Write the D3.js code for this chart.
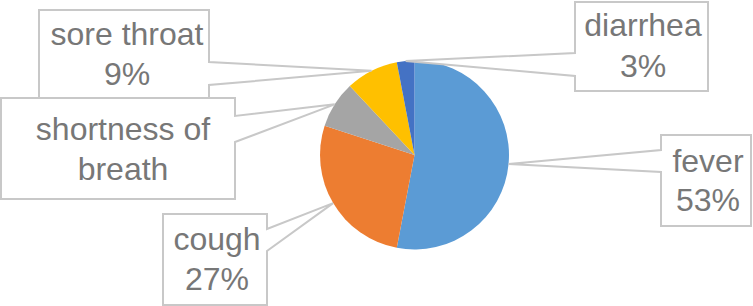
<!DOCTYPE html>
<html>
<head>
<meta charset="utf-8">
<script src="https://cdn.jsdelivr.net/npm/d3@7"></script>
<style>
  html, body { margin: 0; padding: 0; background: #fff; }
  svg { display: block; }
</style>
</head>
<body>
<svg id="chart" width="753" height="306"></svg>
<script>
// ---- data ----
const categories = ["fever", "cough", "shortness of breath", "sore throat", "diarrhea"];
const values = [53, 27, 8, 9, 3];
// visible label lines (the "shortness of breath" label is clipped in the original)
const labelLines = [
  ["fever", "53%"],
  ["cough", "27%"],
  ["shortness of", "breath"],
  ["sore throat", "9%"],
  ["diarrhea", "3%"]
];
const colors = ["#5B9BD5", "#ED7D31", "#A5A5A5", "#FFC000", "#4472C4"];

// ---- layout (callout boxes) ----
const boxes = [
  { x0: 661, y0: 135, x1: 751, y1: 226, side: "left",  ya: 150, yb: 172, tx: 708, by: [172, 211] },
  { x0: 163, y0: 214, x1: 267, y1: 305, side: "right", ya: 229, yb: 251, tx: 217, by: [250, 290] },
  { x0: 1,   y0: 98,  x1: 235, y1: 199, side: "right", ya: 116, yb: 142, tx: 123, by: [140, 180] },
  { x0: 39,  y0: 10,  x1: 209, y1: 99,  side: "right", ya: 62,  yb: 85,  tx: 127, by: [45, 85] },
  { x0: 575, y0: 2,   x1: 708, y1: 91,  side: "left",  ya: 53,  yb: 76,  tx: 643, by: [36, 77] }
];

const cx = 414.5, cy = 155, R = 94.5;
const svg = d3.select("#chart");

const pie = d3.pie().sort(null).value(d => d)(values);
const arc = d3.arc().innerRadius(0).outerRadius(R);

const g = svg.append("g").attr("transform", `translate(${cx},${cy})`);
g.selectAll("path.slice")
  .data(pie)
  .join("path")
  .attr("class", "slice")
  .attr("d", arc)
  .attr("fill", (d, i) => colors[i]);

// callouts
const labelG = svg.append("g");
const order = [3, 2, 1, 4, 0];
order.forEach(i => {
  const d = pie[i];
  const b = boxes[i];
  const mid = (d.startAngle + d.endAngle) / 2;
  const tipX = cx + R * Math.sin(mid);
  const tipY = cy - R * Math.cos(mid);
  let p;
  if (b.side === "right") {
    p = `M${b.x0},${b.y0}H${b.x1}V${b.ya}L${tipX},${tipY}L${b.x1},${b.yb}V${b.y1}H${b.x0}Z`;
  } else {
    p = `M${b.x0},${b.y0}H${b.x1}V${b.y1}H${b.x0}V${b.yb}L${tipX},${tipY}L${b.x0},${b.ya}Z`;
  }
  labelG.append("path")
    .attr("d", p)
    .attr("fill", "#fff")
    .attr("stroke", "#C8C8C8")
    .attr("stroke-width", 2)
    .attr("stroke-linejoin", "miter");
  labelLines[i].forEach((line, k) => {
    labelG.append("text")
      .attr("x", b.tx)
      .attr("y", b.by[k])
      .attr("text-anchor", "middle")
      .attr("font-family", "'Liberation Sans', Arial, Helvetica, sans-serif")
      .attr("font-size", 32)
      .attr("fill", "#777777")
      .text(line);
  });
});
</script>
</body>
</html>
